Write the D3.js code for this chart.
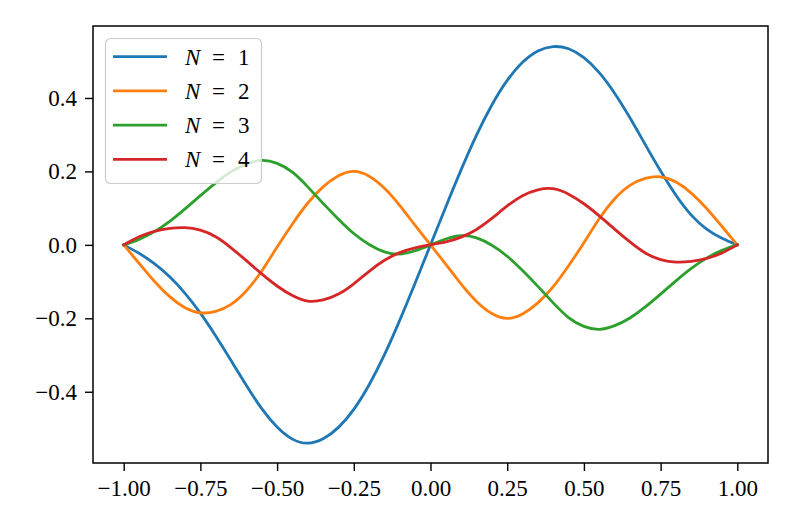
<!DOCTYPE html>
<html>
<head>
<meta charset="utf-8">
<script src="https://cdn.jsdelivr.net/npm/d3@7"></script>
<style>
  html, body { margin: 0; padding: 0; background: #fff; }
  svg { display: block; }
  text { font-family: "Liberation Serif", "DejaVu Serif", serif; fill: #000; }
</style>
</head>
<body>
<svg id="chart" width="793" height="529"></svg>
<script>
// ---- data ----
const xs = [-1.00,-0.95,-0.90,-0.85,-0.80,-0.75,-0.70,-0.65,-0.60,-0.55,-0.50,-0.45,-0.40,-0.35,-0.30,-0.25,-0.20,-0.15,-0.10,-0.05,
             0.00, 0.05, 0.10, 0.15, 0.20, 0.25, 0.30, 0.35, 0.40, 0.45, 0.50, 0.55, 0.60, 0.65, 0.70, 0.75, 0.80, 0.85, 0.90, 0.95, 1.00];
const seriesN1 = [0,-0.023,-0.051,-0.087,-0.132,-0.186,-0.248,-0.315,-0.383,-0.446,-0.496,-0.529,-0.540,-0.528,-0.497,-0.448,-0.381,-0.299,-0.205,-0.104,
                  0, 0.104, 0.205, 0.299, 0.381, 0.448, 0.497, 0.528, 0.540, 0.534, 0.510, 0.469, 0.413, 0.346, 0.273, 0.201, 0.135, 0.081, 0.043, 0.018, 0];
const seriesN2 = [0,-0.050,-0.099,-0.141,-0.171,-0.185,-0.181,-0.162,-0.125,-0.071,-0.006, 0.057, 0.114, 0.158, 0.188, 0.200, 0.187, 0.154, 0.107, 0.053,
                  0,-0.053,-0.107,-0.154,-0.187,-0.200,-0.188,-0.158,-0.114,-0.057, 0.006, 0.071, 0.125, 0.162, 0.181, 0.185, 0.171, 0.141, 0.099, 0.050, 0];
const seriesN3 = [0, 0.015, 0.036, 0.064, 0.098, 0.134, 0.169, 0.199, 0.220, 0.230, 0.222, 0.198, 0.158, 0.113, 0.070, 0.031, 0.001,-0.019,-0.025,-0.016,
                  0, 0.016, 0.025, 0.019,-0.001,-0.031,-0.070,-0.113,-0.158,-0.198,-0.222,-0.230,-0.220,-0.199,-0.169,-0.134,-0.098,-0.064,-0.036,-0.015, 0];
const seriesN4 = [0, 0.022, 0.037, 0.045, 0.047, 0.040, 0.022,-0.008,-0.043,-0.079,-0.112,-0.138,-0.153,-0.150,-0.134,-0.106,-0.072,-0.042,-0.021,-0.008,
                  0, 0.008, 0.021, 0.042, 0.072, 0.106, 0.134, 0.150, 0.153, 0.138, 0.112, 0.079, 0.043, 0.008,-0.022,-0.040,-0.047,-0.045,-0.037,-0.022, 0];
const seriesNames = ["1", "2", "3", "4"];
const seriesColors = ["#1f77b4", "#ff7f0e", "#2ca02c", "#d62728"];
const xTicks = [-1.00, -0.75, -0.50, -0.25, 0.00, 0.25, 0.50, 0.75, 1.00];
const yTicks = [-0.4, -0.2, 0.0, 0.2, 0.4];

const allSeries = [seriesN1, seriesN2, seriesN3, seriesN4];

// ---- layout ----
const svg = d3.select("#chart");
const L = 93, R = 768, T = 26, B = 463;
const x = d3.scaleLinear().domain([-1.1, 1.1]).range([L, R]);
const y = d3.scaleLinear().domain([-0.594, 0.596]).range([B, T]);

const fmtMinus = s => s.replace("-", "\u2212");

// curves
const line = d3.line().x(d => x(d[0])).y(d => y(d[1])).curve(d3.curveNatural);
allSeries.forEach((s, i) => {
  svg.append("path")
    .datum(xs.map((xv, j) => [xv, s[j]]))
    .attr("fill", "none")
    .attr("stroke", seriesColors[i])
    .attr("stroke-width", 2.8)
    .attr("stroke-linejoin", "round")
    .attr("stroke-linecap", "square")
    .attr("d", line);
});

// axes
const xAxis = d3.axisBottom(x).tickValues(xTicks).tickSize(8).tickPadding(9)
  .tickFormat(d => fmtMinus(d3.format(".2f")(d)));
const yAxis = d3.axisLeft(y).tickValues(yTicks).tickSize(8).tickPadding(8)
  .tickFormat(d => fmtMinus(d3.format(".1f")(d)));

const gx = svg.append("g").attr("transform", `translate(0,${B})`).call(xAxis);
const gy = svg.append("g").attr("transform", `translate(${L},0)`).call(yAxis);
[gx, gy].forEach(g => {
  g.select(".domain").remove();
  g.selectAll(".tick line").attr("stroke", "#000").attr("stroke-width", 1.4);
  g.selectAll(".tick text").attr("font-size", 23).attr("font-family", "Liberation Serif, DejaVu Serif, serif");
});

// frame
svg.append("rect").attr("x", L).attr("y", T).attr("width", R - L).attr("height", B - T)
  .attr("fill", "none").attr("stroke", "#000").attr("stroke-width", 1.5);

// legend
const lg = svg.append("g");
lg.append("rect").attr("x", 105.5).attr("y", 38.5).attr("width", 156).attr("height", 145)
  .attr("rx", 5).attr("ry", 5)
  .attr("fill", "#fff").attr("fill-opacity", 0.8)
  .attr("stroke", "#cccccc").attr("stroke-width", 1.2);
seriesNames.forEach((n, i) => {
  const cy = 56.7 + i * 34.2;
  lg.append("line").attr("x1", 113).attr("x2", 167).attr("y1", cy).attr("y2", cy)
    .attr("stroke", seriesColors[i]).attr("stroke-width", 2.8);
  const t = lg.append("text").attr("y", cy + 8).attr("font-size", 23);
  t.append("tspan").attr("x", 185).attr("font-style", "italic").text("N");
  t.append("tspan").attr("x", 212).text("=");
  t.append("tspan").attr("x", 238).text(n);
});
</script>
</body>
</html>
